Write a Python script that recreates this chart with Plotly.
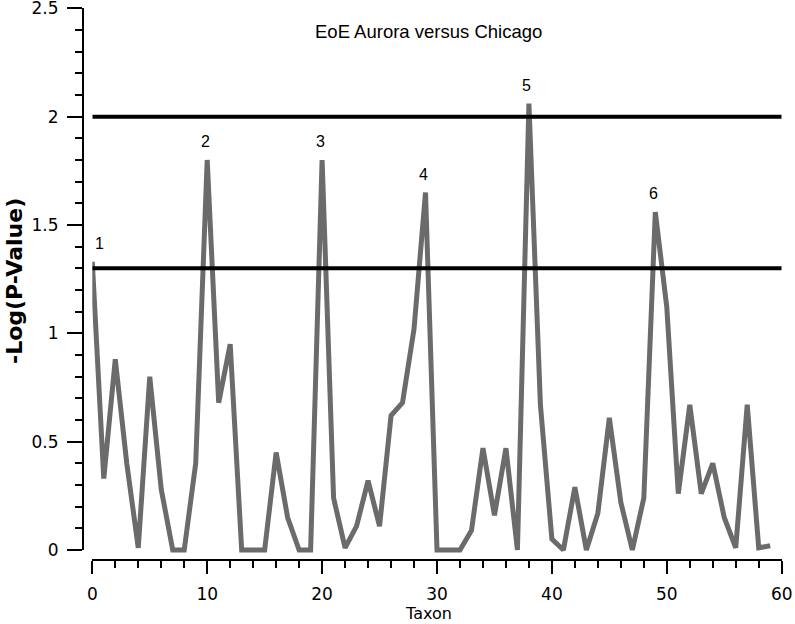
import plotly.graph_objects as go

# -Log(P-value) per taxon
taxon = list(range(60))
neg_log_p = [
    1.33, 0.33, 0.88, 0.40, 0.01, 0.80, 0.28, 0.00, 0.00, 0.40,
    1.80, 0.68, 0.95, 0.00, 0.00, 0.00, 0.45, 0.15, 0.00, 0.00,
    1.80, 0.24, 0.01, 0.11, 0.32, 0.11, 0.62, 0.68, 1.02, 1.65,
    0.00, 0.00, 0.00, 0.09, 0.47, 0.16, 0.47, 0.00, 2.06, 0.67,
    0.05, 0.00, 0.29, 0.00, 0.17, 0.61, 0.22, 0.00, 0.24, 1.56,
    1.12, 0.26, 0.67, 0.26, 0.40, 0.15, 0.01, 0.67, 0.01, 0.02,
]
thresholds = [2.0, 1.3]
peak_idx = [0, 10, 20, 29, 38, 49]
peak_labels = ["1", "2", "3", "4", "5", "6"]
y_ticks = [0, 0.5, 1, 1.5, 2, 2.5]
y_ticktext = ["0", "0.5", "1", "1.5", "2", "2.5"]

W, H = 795, 624
# pixel frame of the original axes
x0_px, x1_px = 92.3, 781.7      # taxon 0 .. 60
y0_px, y1_px = 550.0, 8.3       # value 0 .. 2.5
xaxis_px = 560.0                # offset x spine
yaxis_px = 83.0                 # offset y spine
px_per_unit = (y0_px - y1_px) / 2.5
pad_px = 6.0                    # let the line run just below zero unclipped

def px(p):
    return p / W

def py(p):
    return 1 - p / H

fig = go.Figure()

# empty trace so the visible y axis gets drawn
fig.add_trace(go.Scatter(x=[], y=[], xaxis="x", yaxis="y", showlegend=False))
fig.add_trace(go.Scatter(
    x=taxon, y=neg_log_p, mode="lines", xaxis="x", yaxis="y2",
    line=dict(color="#6b6b6b", width=5), showlegend=False, hoverinfo="skip",
))

for t in thresholds:
    fig.add_shape(type="line", xref="x", yref="y2", x0=0, x1=60, y0=t, y1=t,
                  line=dict(color="black", width=4))

for i, lab in zip(peak_idx, peak_labels):
    fig.add_annotation(x=taxon[i], y=neg_log_p[i], xref="x", yref="y2", text=lab,
                       showarrow=False, yshift=18, xshift=7 if i == 0 else -2,
                       xanchor="center", yanchor="middle",
                       font=dict(family="Liberation Sans, Arial", size=16, color="black"))

tickfont = dict(family="DejaVu Sans", size=17, color="black")

fig.update_layout(
    width=W, height=H,
    margin=dict(l=0, r=0, t=0, b=0),
    paper_bgcolor="white", plot_bgcolor="rgba(0,0,0,0)",
    xaxis=dict(
        domain=[px(x0_px), px(x1_px)], range=[0, 60], anchor="free", position=py(xaxis_px),
        showgrid=False, zeroline=False, showline=True, linecolor="black", linewidth=2,
        ticks="outside", ticklen=13, tickwidth=2, tickcolor="black", dtick=10, tick0=0,
        minor=dict(dtick=2, ticks="outside", ticklen=7, tickwidth=2, tickcolor="black"),
        tickfont=tickfont, ticklabelstandoff=6, ticklabeloverflow="allow", automargin=False,
    ),
    yaxis=dict(
        domain=[py(y0_px), py(y1_px)], range=[0, 2.5], anchor="free", position=px(yaxis_px),
        showgrid=False, zeroline=False, showline=True, linecolor="black", linewidth=2,
        ticks="outside", ticklen=15, tickwidth=2, tickcolor="black",
        tickmode="array", tickvals=y_ticks, ticktext=y_ticktext,
        minor=dict(dtick=0.1, tick0=0, ticks="outside", ticklen=7, tickwidth=2, tickcolor="black"),
        tickfont=tickfont, ticklabelstandoff=5, ticklabeloverflow="allow", automargin=False,
    ),
    yaxis2=dict(
        domain=[py(y0_px + pad_px), py(y1_px)], range=[-pad_px / px_per_unit, 2.5],
        anchor="x", visible=False, showgrid=False, zeroline=False,
    ),
    annotations=list(fig.layout.annotations) + [
        dict(text="EoE Aurora versus Chicago", x=px(428), y=py(31),
             xref="paper", yref="paper", xanchor="center", yanchor="middle", showarrow=False,
             font=dict(family="Liberation Sans, Arial", size=18.5, color="black")),
        dict(text="Taxon", x=px(428), y=py(613), xref="paper", yref="paper",
             xanchor="center", yanchor="middle", showarrow=False,
             font=dict(family="DejaVu Sans", size=16, color="black")),
        dict(text="<b>-Log(P-Value)</b>", x=px(14), y=py(281), xref="paper",
             yref="paper", xanchor="center", yanchor="middle", textangle=-90, showarrow=False,
             font=dict(family="DejaVu Sans", size=22, color="black")),
    ],
)

# drop the default 8px page margin so the figure fills the window
fig.write_html("out.html", config={"displayModeBar": False},
               post_script="document.body.style.margin='0px';")
